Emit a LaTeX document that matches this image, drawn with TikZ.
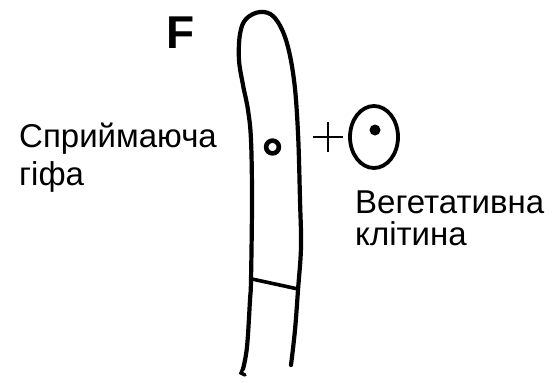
\documentclass[tikz,border=0pt]{standalone}
\usepackage{fontspec}
\setmainfont{Liberation Sans}
\begin{document}
\begin{tikzpicture}[x=1pt,y=-1pt,
  outline/.style={line width=4.2pt,line cap=round,line join=round},
  label/.style={anchor=base west,inner sep=0pt,font=\fontsize{33}{38}\selectfont},
  letter/.style={anchor=base west,inner sep=0pt,font=\fontsize{46}{50}\selectfont\bfseries}]
\useasboundingbox (0,0) rectangle (558,383);

% panel letter
\node[letter] (F) at (166,48) {F};

% receptive hypha: outline
\draw[outline] plot[smooth,tension=0.6] coordinates {
  (243,369) (247,347) (250,300) (251,280) (252,200) (251,140) (248,110)
  (243,85) (239,60) (240,34) (246,19) (260,12) (274,17) (286,40)
  (294,80) (298,133) (300,200) (301,247) (298,290) (295,330) (291,365)};
% small hook at the lower left end
\draw[line width=3.4pt,line cap=round] (243,368) -- (241,373) -- (245,375);
% septum
\draw[line width=3.6pt] (252,279) -- (298,289);
% nucleus of the hypha
\draw[line width=4.6pt] (272.5,147) circle[radius=6.4];

% plus sign
\draw[line width=1.4pt] (313,137) -- (343,137) (328,122) -- (328,152);

% vegetative cell with its nucleus
\draw[line width=3.8pt] (374,137) ellipse[x radius=24,y radius=31];
\fill (375,130) circle[radius=5.5];

% captions
\node[label] (hypha1) at (19,147) {Сприймаюча};
\node[label] (hypha2) at (19,185) {гіфа};
\node[label] (cell1) at (355,213) {Вегетативна};
\node[label] (cell2) at (355,245) {клітина};
\end{tikzpicture}
\end{document}
